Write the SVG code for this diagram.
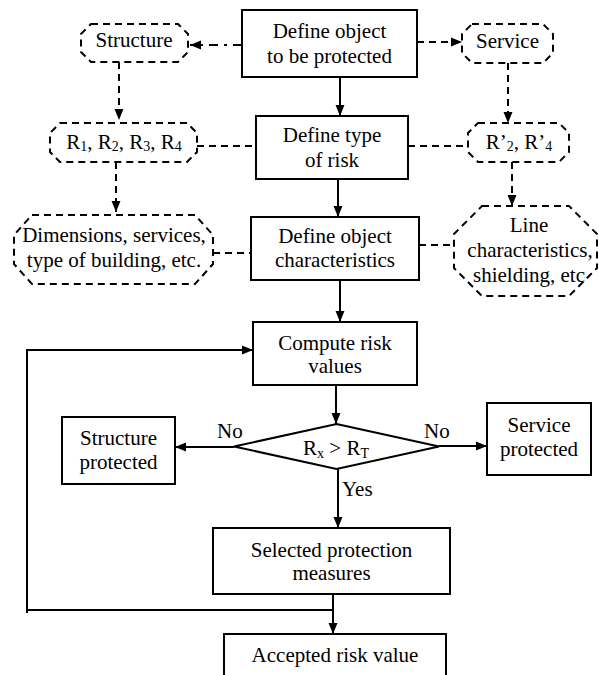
<svg xmlns="http://www.w3.org/2000/svg" width="599" height="675" viewBox="0 0 599 675">
<defs>
<marker id="ah" markerUnits="userSpaceOnUse" markerWidth="12" markerHeight="10" refX="11" refY="5" orient="auto">
<path d="M0,0.5 L11,5 L0,9.5 z" fill="#000"/>
</marker>
</defs>
<style>
.t{font-size:21px;fill:#000;text-anchor:middle}
.box{fill:#fff;stroke:#000;stroke-width:2}
.dnode{fill:#fff;stroke:#000;stroke-width:2;stroke-dasharray:7,5}
.c{fill:none;stroke:#000;stroke-width:2}
.d{fill:none;stroke:#000;stroke-width:2;stroke-dasharray:7,5}
.dd{fill:none;stroke:#000;stroke-width:2;stroke-dasharray:9,6,3,6}
.arr{marker-end:url(#ah)}
.sub{font-size:14px}
.lbl{text-anchor:start}
</style>
<rect width="599" height="675" fill="#fff"/>
<g id="connectors">
<line class="dd arr" x1="242" y1="45" x2="190" y2="45"/>
<line class="d arr" x1="417" y1="42" x2="462" y2="42"/>
<line class="c arr" x1="340" y1="77" x2="340" y2="116"/>
<line class="d arr" x1="119" y1="62" x2="119" y2="120"/>
<line class="d arr" x1="508" y1="63" x2="508" y2="123"/>
<line class="d" x1="197" y1="146" x2="256" y2="146"/>
<line class="d" x1="408" y1="146" x2="468" y2="146"/>
<line class="c arr" x1="338" y1="179" x2="338" y2="217"/>
<line class="d arr" x1="116" y1="162" x2="116" y2="212"/>
<line class="d arr" x1="512" y1="162" x2="512" y2="206"/>
<line class="d" x1="213" y1="253" x2="251" y2="253"/>
<line class="d" x1="419" y1="245" x2="453" y2="245"/>
<line class="c arr" x1="340" y1="280" x2="340" y2="322"/>
<line class="c arr" x1="336" y1="385" x2="336" y2="424"/>
<line class="c arr" x1="234" y1="447" x2="175" y2="447"/>
<line class="c arr" x1="439" y1="446" x2="487" y2="446"/>
<line class="c arr" x1="338" y1="469" x2="338" y2="528"/>
<line class="c arr" x1="333" y1="594" x2="333" y2="634"/>
<polyline class="c" points="27,613 27,350"/>
<line class="c arr" x1="26" y1="350" x2="253" y2="350"/>
<line class="c" x1="28" y1="610" x2="333" y2="610"/>
</g>
<g id="define-object">
<rect class="box" x="242" y="10" width="175" height="67"/>
<text class="t" style="font-family:'Liberation Serif',serif" x="329.5" y="38">Define object</text>
<text class="t" style="font-family:'Liberation Serif',serif" x="329.5" y="63">to be protected</text>
</g>
<g id="structure">
<polygon class="dnode" points="91,24 178,24 188,34 188,52 178,62 91,62 81,52 81,34"/>
<text class="t" style="font-family:'Liberation Serif',serif" x="134" y="47">Structure</text>
</g>
<g id="service">
<polygon class="dnode" points="472,24 543,24 553,34 553,53 543,63 472,63 462,53 462,34"/>
<text class="t" style="font-family:'Liberation Serif',serif" x="507.5" y="48">Service</text>
</g>
<g id="define-type">
<rect class="box" x="256" y="116" width="152" height="63"/>
<text class="t" style="font-family:'Liberation Serif',serif" x="332" y="142">Define type</text>
<text class="t" style="font-family:'Liberation Serif',serif" x="332" y="167">of risk</text>
</g>
<g id="r-structure">
<polygon class="dnode" points="60,123 187,123 197,133 197,152 187,162 60,162 50,152 50,133"/>
<text class="t" style="font-family:'Liberation Serif',serif" x="124" y="149">R<tspan class="sub" dy="2">1</tspan><tspan dy="-2">, R</tspan><tspan class="sub" dy="2">2</tspan><tspan dy="-2">, R</tspan><tspan class="sub" dy="2">3</tspan><tspan dy="-2">, R</tspan><tspan class="sub" dy="2">4</tspan></text>
</g>
<g id="r-service">
<polygon class="dnode" points="478,123 559,123 569,133 569,152 559,162 478,162 468,152 468,133"/>
<text class="t" style="font-family:'Liberation Serif',serif" x="519" y="149">R’<tspan class="sub" dy="2">2</tspan><tspan dy="-2">, R’</tspan><tspan class="sub" dy="2">4</tspan></text>
</g>
<g id="define-characteristics">
<rect class="box" x="251" y="217" width="168" height="63"/>
<text class="t" style="font-family:'Liberation Serif',serif" x="335" y="243">Define object</text>
<text class="t" style="font-family:'Liberation Serif',serif" x="335" y="267">characteristics</text>
</g>
<g id="dimensions">
<polygon class="dnode" points="32,215 195,215 213,235 213,264 195,284 32,284 14,264 14,235"/>
<text class="t" style="font-family:'Liberation Serif',serif" x="114" y="242">Dimensions, services,</text>
<text class="t" style="font-family:'Liberation Serif',serif" x="114" y="267">type of building, etc.</text>
</g>
<g id="line-char">
<polygon class="dnode" points="482,206 569,206 597,234 597,268 569,296 482,296 454,268 454,234"/>
<text class="t" style="font-family:'Liberation Serif',serif" x="529" y="232">Line</text>
<text class="t" style="font-family:'Liberation Serif',serif" x="530" y="257">characteristics,</text>
<text class="t" style="font-family:'Liberation Serif',serif" x="529" y="282">shielding, etc</text>
</g>
<g id="compute">
<rect class="box" x="253" y="322" width="164" height="63"/>
<text class="t" style="font-family:'Liberation Serif',serif" x="335" y="350">Compute risk</text>
<text class="t" style="font-family:'Liberation Serif',serif" x="335" y="373">values</text>
</g>
<g id="decision">
<polygon class="box" points="336.5,424 439,446.5 336.5,469 234,446.5"/>
<text class="t" style="font-family:'Liberation Serif',serif" x="336" y="455">R<tspan class="sub" dy="3">x</tspan><tspan dy="-3"> &gt; R</tspan><tspan class="sub" dy="3">T</tspan></text>
</g>
<g id="structure-protected">
<rect class="box" x="62" y="417" width="113" height="67"/>
<text class="t" style="font-family:'Liberation Serif',serif" x="118.5" y="445">Structure</text>
<text class="t" style="font-family:'Liberation Serif',serif" x="118.5" y="469">protected</text>
</g>
<g id="service-protected">
<rect class="box" x="487" y="403" width="104" height="72"/>
<text class="t" style="font-family:'Liberation Serif',serif" x="539" y="432">Service</text>
<text class="t" style="font-family:'Liberation Serif',serif" x="539" y="456">protected</text>
</g>
<g id="selected">
<rect class="box" x="213" y="528" width="237" height="66"/>
<text class="t" style="font-family:'Liberation Serif',serif" x="331.5" y="557">Selected protection</text>
<text class="t" style="font-family:'Liberation Serif',serif" x="331.5" y="580">measures</text>
</g>
<g id="accepted">
<rect class="box" x="224" y="634" width="222" height="50"/>
<text class="t" style="font-family:'Liberation Serif',serif" x="335" y="662">Accepted risk value</text>
</g>
<g id="labels">
<text class="t lbl" style="font-family:'Liberation Serif',serif" x="217" y="438">No</text>
<text class="t lbl" style="font-family:'Liberation Serif',serif" x="424" y="438">No</text>
<text class="t lbl" style="font-family:'Liberation Serif',serif" x="342" y="496">Yes</text>
</g>
</svg>
